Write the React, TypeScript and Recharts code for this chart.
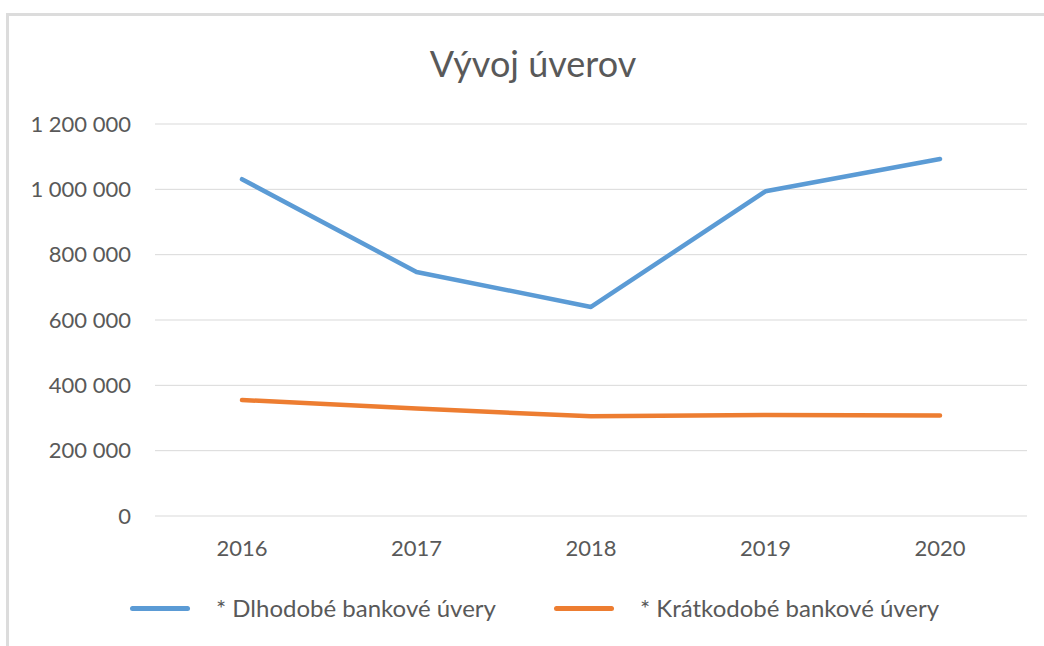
import React from 'react';
import { LineChart, Line, XAxis, YAxis, CartesianGrid, Legend } from 'recharts';

const years = ['2016', '2017', '2018', '2019', '2020'];
const dlhodobe = [1031000, 747000, 640000, 994000, 1093000];
const kratkodobe = [355000, 329000, 305000, 309000, 308000];
const yTicks = [0, 200000, 400000, 600000, 800000, 1000000, 1200000];

const seriesNames = ['* Dlhodobé bankové úvery', '* Krátkodobé bankové úvery'];
const seriesColors = ['#5b9bd5', '#ed7d31'];

const data = years.map((year, i) => ({
  year,
  dlhodobe: dlhodobe[i],
  kratkodobe: kratkodobe[i],
}));

const FONT = 'Lato, "Open Sans", sans-serif';
const TEXT = '#595959';

const formatThousands = (v: number) => String(v).replace(/\B(?=(\d{3})+(?!\d))/g, ' ');

const LegendContent = ({ payload }: any) => (
  <div style={{ display: 'flex', alignItems: 'center', paddingLeft: 130, fontFamily: FONT, fontSize: 24, color: TEXT, lineHeight: '30px' }}>
    {(payload || []).map((entry: any) => (
      <div key={entry.value} style={{ display: 'flex', alignItems: 'center', marginRight: 58 }}>
        <span style={{ display: 'inline-block', width: 60, height: 5, borderRadius: 3, background: entry.color, marginRight: 26 }} />
        <span>{entry.value}</span>
      </div>
    ))}
  </div>
);

export default function App() {
  return (
    <div style={{ position: 'absolute', left: 0, top: 0, width: 1044, height: 646, background: '#fff' }}>
      <div
        style={{
          position: 'absolute', left: 6, top: 13, width: 1038, height: 633, boxSizing: 'border-box',
          borderLeft: '3px solid #dcdcdc', borderTop: '3px solid #dcdcdc',
        }}
      />
      <div
        style={{
          position: 'absolute', left: 0, top: 41, width: 1066, textAlign: 'center',
          fontFamily: FONT, fontSize: 36, color: TEXT, lineHeight: '44px',
        }}
      >
        Vývoj úverov
      </div>
      <div style={{ position: 'absolute', left: 0, top: 0 }}>
        <LineChart width={1044} height={646} data={data} margin={{ top: 124, right: 17, bottom: 100, left: 0 }}>
          <CartesianGrid vertical={false} stroke="#d9d9d9" strokeWidth={1} />
          <XAxis
            dataKey="year"
            axisLine={false}
            tickLine={false}
            padding={{ left: 87, right: 87 }}
            height={30}
            tickMargin={18}
            tick={{ fill: TEXT, fontSize: 22, fontFamily: FONT }}
          />
          <YAxis
            width={155}
            domain={[0, 1200000]}
            ticks={yTicks}
            axisLine={false}
            tickLine={false}
            tickMargin={18}
            tickFormatter={formatThousands}
            tick={{ fill: TEXT, fontSize: 22, fontFamily: FONT }}
          />
          <Legend
            layout="horizontal"
            verticalAlign="middle"
            align="center"
            wrapperStyle={{ top: 593, left: 0, width: 1044 }}
            content={<LegendContent />}
          />
          <Line
            dataKey="dlhodobe"
            name={seriesNames[0]}
            stroke={seriesColors[0]}
            strokeWidth={4.5}
            strokeLinecap="round"
            strokeLinejoin="round"
            dot={false}
            isAnimationActive={false}
          />
          <Line
            dataKey="kratkodobe"
            name={seriesNames[1]}
            stroke={seriesColors[1]}
            strokeWidth={4.5}
            strokeLinecap="round"
            strokeLinejoin="round"
            dot={false}
            isAnimationActive={false}
          />
        </LineChart>
      </div>
    </div>
  );
}
